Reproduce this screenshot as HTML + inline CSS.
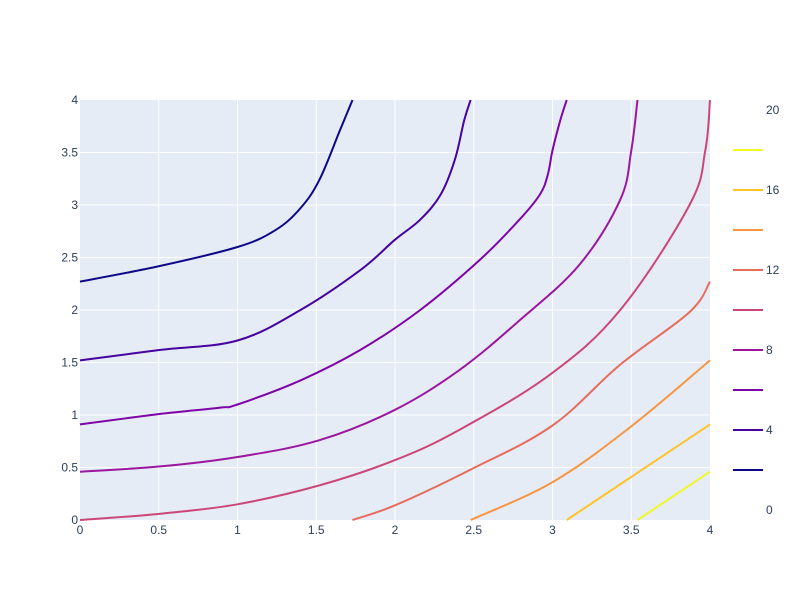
<!DOCTYPE html>
<html><head><meta charset="utf-8">
<style>
html,body{margin:0;padding:0;background:#fff;}
svg text{font-family:"Liberation Sans",sans-serif;font-size:12px;fill:#2a3f5f;}
</style></head>
<body>
<svg id="chart" width="800" height="600" xmlns="http://www.w3.org/2000/svg">
<rect x="0" y="0" width="800" height="600" fill="#fff"/>
<rect x="80" y="100" width="630" height="420" fill="#e5ecf6"/>
<g id="grid"></g><g id="lines"></g><g id="axes"></g><g id="cbar"></g>
</svg>
<script>
const levels = [2,4,6,8,10,12,14,16,18];
const colors = ["#0d0887","#46039f","#7e03a8","#9c179e","#cc4778","#e66c5c","#f89540","#fdc328","#f0f921"];
const c2 = [[0,2.27],[0.51,2.42],[1,2.6],[1.24,2.76],[1.4,2.97],[1.52,3.24],[1.65,3.71],[1.73,4]];
const c4 = [[0,1.52],[0.51,1.62],[1,1.71],[1.4,2],[1.78,2.38],[2,2.67],[2.16,2.86],[2.29,3.1],[2.38,3.43],[2.44,3.81],[2.48,4]];
const c6 = [[0,0.91],[0.51,1.01],[0.89,1.07],[1,1.1],[1.4,1.33],[1.78,1.62],[2.16,2],[2.54,2.48],[2.79,2.86],[2.92,3.1],[2.97,3.29],[3,3.52],[3.05,3.81],[3.09,4]];
const c8 = [[0,0.46],[0.51,0.51],[1,0.6],[1.52,0.76],[2,1.05],[2.41,1.43],[2.79,1.9],[3.17,2.43],[3.43,3.05],[3.5,3.52],[3.54,4]];
const c10 = [[0,0],[0.51,0.06],[1,0.15],[1.52,0.33],[2,0.57],[2.41,0.86],[2.98,1.38],[3.43,2],[3.87,3],[3.97,3.52],[4,4]];
const c12 = [[1.73,0],[2,0.14],[2.48,0.48],[3,0.9],[3.43,1.48],[3.87,1.98],[4,2.27]];
const c14 = [[2.48,0],[3,0.36],[3.49,0.88],[4,1.52]];
const c16 = [[3.09,0],[3.49,0.4],[4,0.91]];
const c18 = [[3.54,0],[4,0.46]];
const contours = [c2,c4,c6,c8,c10,c12,c14,c16,c18];
const xTicks = [0,0.5,1,1.5,2,2.5,3,3.5,4];
const yTicks = [0,0.5,1,1.5,2,2.5,3,3.5,4];
const cbTicks = [0,4,8,12,16,20];

const NS="http://www.w3.org/2000/svg";
const X = v => 80 + v/4*630;
const Y = v => 520 - v/4*420;
const CB = v => 510 - v/20*400;
function mk(tag, attrs, parent){const e=document.createElementNS(NS,tag);for(const k in attrs)e.setAttribute(k,attrs[k]);parent.appendChild(e);return e;}
const grid=document.getElementById('grid'), lines=document.getElementById('lines'), axes=document.getElementById('axes'), cbar=document.getElementById('cbar');

function smooth(P){
  if(P.length<3) return 'M'+P.map(p=>p[0].toFixed(1)+','+p[1].toFixed(1)).join(' L');
  let d='M'+P[0][0].toFixed(1)+','+P[0][1].toFixed(1);
  for(let i=0;i<P.length-1;i++){
    const p0=P[Math.max(0,i-1)],p1=P[i],p2=P[i+1],p3=P[Math.min(P.length-1,i+2)];
    const t=0.35/2*2;
    const c1=[p1[0]+(p2[0]-p0[0])*t/2,p1[1]+(p2[1]-p0[1])*t/2];
    const c2=[p2[0]-(p3[0]-p1[0])*t/2,p2[1]-(p3[1]-p1[1])*t/2];
    d+=' C'+c1[0].toFixed(1)+','+c1[1].toFixed(1)+' '+c2[0].toFixed(1)+','+c2[1].toFixed(1)+' '+p2[0].toFixed(1)+','+p2[1].toFixed(1);
  }
  return d;
}

xTicks.forEach(t=>{
  if(t>0&&t<4){const g=mk('line',{x1:X(t),x2:X(t),y1:100,y2:520,stroke:'#fff','stroke-width':1},grid);
  
  }
  const tx=mk('text',{x:X(t),y:534,'text-anchor':'middle'},axes);tx.textContent=t;
  
  
});
yTicks.forEach(t=>{
  if(t>0&&t<4){const g=mk('line',{x1:80,x2:710,y1:Y(t),y2:Y(t),stroke:'#fff','stroke-width':1},grid);
  
  }
  const tx=mk('text',{x:78,y:Y(t)+4,'text-anchor':'end'},axes);tx.textContent=t;
  
  
});
contours.forEach((pts,i)=>{
  const P=pts.map(p=>[X(p[0]),Y(p[1])]);
  const p=mk('path',{d:smooth(P),fill:'none',stroke:colors[i],'stroke-width':2,'stroke-linejoin':'round'},lines);
  
  
});
levels.forEach((l,i)=>{
  const s=mk('line',{x1:733,x2:763,y1:CB(l),y2:CB(l),stroke:colors[i],'stroke-width':2},cbar);
  
  
});
cbTicks.forEach(t=>{
  const tx=mk('text',{x:766,y:CB(t)+4},cbar);tx.textContent=t;
  
  
});
</script>
</body></html>
